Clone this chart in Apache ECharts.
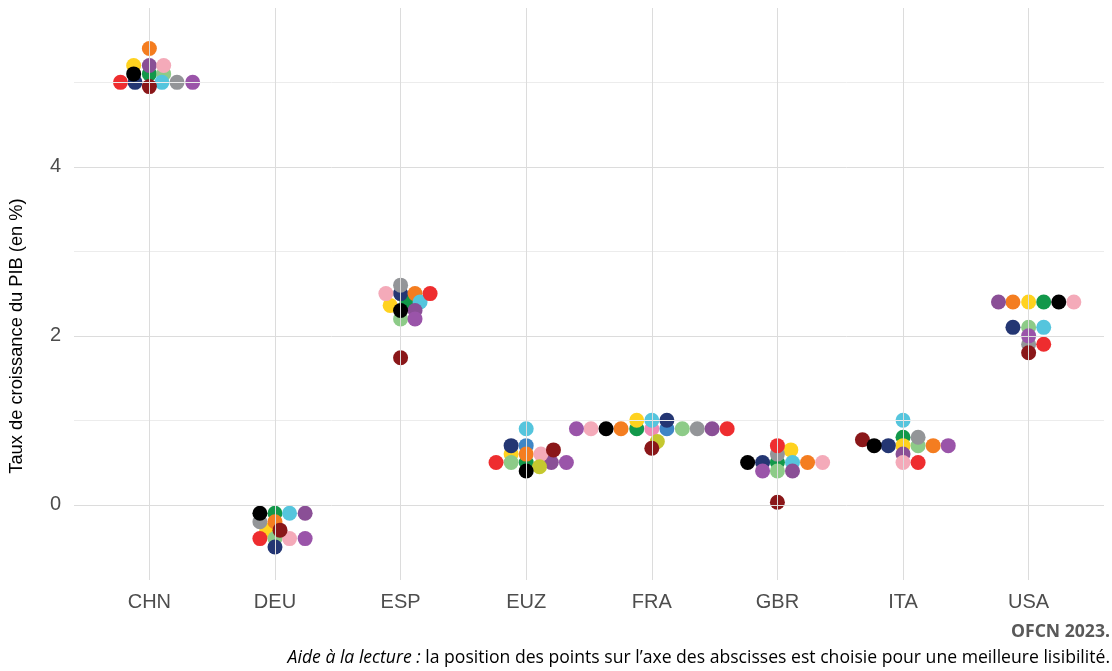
<!DOCTYPE html>
<html><head><meta charset="utf-8">
<script src="https://cdn.jsdelivr.net/npm/echarts@6/dist/echarts.min.js"></script>
<style>html,body{margin:0;padding:0;background:#fff}#c{width:1112px;height:671px}</style>
</head><body><div id="c"></div>
<script>
// Pays (axe des abscisses)
const categories = ['CHN', 'DEU', 'ESP', 'EUZ', 'FRA', 'GBR', 'ITA', 'USA'];
const yTickLabels = [0, 2, 4];

// Prévisions de croissance du PIB (%) par prévisionniste, ordre = categories
const prevRouge      = [5.0, -0.4, 2.5, 0.5, 0.9, 0.7, 0.5, 1.9];
const prevOrange     = [5.4, -0.2, 2.5, 0.6, 0.9, 0.5, 0.7, 2.4];
const prevJaune      = [5.2, -0.3, 2.36, 0.6, 1.0, 0.65, 0.7, 2.4];
const prevVert       = [5.1, -0.1, 2.4, 0.5, 0.9, 0.5, 0.8, 2.4];
const prevVertClair  = [5.1, -0.4, 2.2, 0.5, 0.9, 0.4, 0.7, 2.1];
const prevCyan       = [5.0, -0.1, 2.4, 0.9, 1.0, 0.5, 1.0, 2.1];
const prevBleu       = [null, null, null, 0.7, 0.9, null, null, null];
const prevMarine     = [5.0, -0.5, 2.5, 0.7, 1.0, 0.5, 0.7, 2.1];
const prevPrune      = [5.2, -0.1, 2.3, 0.5, 0.9, 0.4, 0.6, 2.4];
const prevViolet     = [5.0, -0.4, 2.2, 0.5, 0.9, 0.4, 0.7, 2.0];
const prevRosePale   = [5.2, -0.4, 2.5, 0.6, 0.9, 0.5, 0.5, 2.4];
const prevRose       = [null, null, null, null, 0.9, null, null, null];
const prevGris       = [5.0, -0.2, 2.6, null, 0.9, 0.6, 0.8, 1.9];
const prevNoir       = [5.1, -0.1, 2.3, 0.4, 0.9, 0.5, 0.7, 2.4];
const prevBordeaux   = [4.95, -0.3, 1.74, 0.65, 0.67, 0.03, 0.77, 1.8];
const prevOlive      = [null, null, null, 0.45, 0.75, null, null, null];

// Décalages horizontaux (en fraction de catégorie) (placement "beeswarm")
const decRouge      = [-0.23, -0.12, 0.235, -0.24, 0.6, 0, 0.12, 0.12];
const decOrange     = [0, 0, 0.115, 0, -0.245, 0.24, 0.24, -0.125];
const decJaune      = [-0.125, -0.065, -0.083, -0.12, -0.12, 0.107, 0, 0];
const decVert       = [0, 0, 0.05, 0, -0.12, 0, 0, 0.12];
const decVertClair  = [0.114, 0, 0, -0.12, 0.243, 0, 0.12, 0];
const decCyan       = [0.1, 0.116, 0.155, 0, 0, 0.12, 0, 0.12];
const decBleu       = [0, 0, 0, 0, 0.12, 0, 0, 0];
const decMarine     = [-0.114, 0, 0, -0.12, 0.12, -0.118, -0.117, -0.125];
const decPrune      = [0, 0.24, 0.115, 0.2, 0.48, 0.12, 0, -0.24];
const decViolet     = [0.345, 0.24, 0.115, 0.32, -0.6, -0.118, 0.36, 0];
const decRosePale   = [0.114, 0.116, -0.117, 0.117, -0.484, 0.36, 0, 0.36];
const decRose       = [0, 0, 0, 0, 0, 0, 0, 0];
const decGris       = [0.22, -0.12, 0, 0, 0.362, 0, 0.12, 0];
const decNoir       = [-0.125, -0.12, 0, 0, -0.364, -0.237, -0.23, 0.24];
const decBordeaux   = [0, 0.04, 0, 0.217, 0, 0, -0.323, 0];
const decOlive      = [0, 0, 0, 0.106, 0.044, 0, 0, 0];

// ordre de tracé + couleurs
const seriesSpec = [
  ['vert', prevVert, decVert, '#12984a'],
  ['jaune', prevJaune, decJaune, '#ffd21f'],
  ['bleu', prevBleu, decBleu, '#3f86c6'],
  ['rose', prevRose, decRose, '#ef8bb5'],
  ['vertclair', prevVertClair, decVertClair, '#8dcb88'],
  ['marine', prevMarine, decMarine, '#243673'],
  ['gris', prevGris, decGris, '#939598'],
  ['orange', prevOrange, decOrange, '#f47d20'],
  ['cyan', prevCyan, decCyan, '#55c5dd'],
  ['prune', prevPrune, decPrune, '#8a4f96'],
  ['rosepale', prevRosePale, decRosePale, '#f4aab9'],
  ['violet', prevViolet, decViolet, '#9a54a9'],
  ['olive', prevOlive, decOlive, '#c5c82f'],
  ['rouge', prevRouge, decRouge, '#ee2d2f'],
  ['bordeaux', prevBordeaux, decBordeaux, '#8a1719'],
  ['noir', prevNoir, decNoir, '#000000']
];

const axisFont = 'Liberation Sans, Arial, sans-serif';
const capFont = 'Open Sans, Lato, sans-serif';

const gridLines = [];
for (let v = 0; v <= 5; v++) {
  const major = yTickLabels.indexOf(v) >= 0;
  gridLines.push({ yAxis: v, lineStyle: { color: major ? '#dcdcdc' : '#ececec', width: 1, type: 'solid' } });
}
categories.forEach((c, i) => {
  gridLines.push({ xAxis: i, lineStyle: { color: '#dcdcdc', width: 1, type: 'solid' } });
});

const series = [{
  type: 'scatter', data: [], silent: true, z: 1,
  markLine: { silent: true, symbol: ['none', 'none'], label: { show: false }, animation: false, data: gridLines }
}];
seriesSpec.forEach(([name, vals, decs, color]) => {
  const data = [];
  vals.forEach((v, i) => { if (v !== null) data.push([i + decs[i], v]); });
  series.push({
    name, type: 'scatter', data, z: 3, symbol: 'circle', symbolSize: 15,
    itemStyle: { color, opacity: 1 }, emphasis: { disabled: true }
  });
});

const chart = echarts.init(document.getElementById('c'), null, { renderer: 'canvas' });
chart.setOption({
  animation: false,
  backgroundColor: '#ffffff',
  grid: { left: 74, right: 8, top: 8, bottom: 91, containLabel: false },
  xAxis: {
    type: 'value', min: -0.6, max: 7.6,
    axisLine: { show: false }, axisTick: { show: false }, splitLine: { show: false },
    axisLabel: {
      customValues: categories.map((c, i) => i),
      formatter: v => categories[Math.round(v)] || '',
      color: '#4d4d4d', fontFamily: axisFont, fontSize: 20, margin: 12
    }
  },
  yAxis: {
    type: 'value', min: -0.89, max: 5.88,
    axisLine: { show: false }, axisTick: { show: false }, splitLine: { show: false },
    axisLabel: {
      customValues: yTickLabels,
      formatter: v => String(v),
      color: '#4d4d4d', fontFamily: axisFont, fontSize: 20, margin: 13
    }
  },
  graphic: [
    { type: 'text', x: 17, y: 336, rotation: Math.PI / 2,
      style: { text: 'Taux de croissance du PIB (en %)', x: 0, y: 0, textAlign: 'center', textVerticalAlign: 'middle', align: 'center', verticalAlign: 'middle',
        fontFamily: axisFont, fontSize: 18.3, fill: '#000' } },
    { type: 'text', x: 1110, y: 632,
      style: { text: 'OFCN 2023.', x: 0, y: 0, textAlign: 'right', textVerticalAlign: 'middle', align: 'right', verticalAlign: 'middle',
        fontFamily: capFont, fontSize: 17.6, fontWeight: 'bold', fill: '#595959' } },
    { type: 'text', x: 1110, y: 658,
      style: { text: '{i|Aide à la lecture :} la position des points sur l’axe des abscisses est choisie pour une meilleure lisibilité.',
        x: 0, y: 0, textAlign: 'right', textVerticalAlign: 'middle', align: 'right', verticalAlign: 'middle',
        fontFamily: capFont, fontSize: 17.6, fill: '#000',
        rich: { i: { fontStyle: 'italic', fontFamily: capFont, fontSize: 17.6, fill: '#000' } } } }
  ],
  series
});
</script></body></html>
